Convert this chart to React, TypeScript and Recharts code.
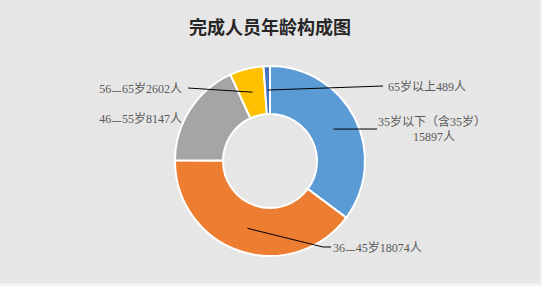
import { Cell, Pie, PieChart } from 'recharts';

const groups = ['35岁以下（含35岁）', '36—45岁', '46—55岁', '56—65岁', '65岁以上'];
const counts = [15897, 18074, 8147, 2602, 489];
const colors = ['#5B9BD5', '#ED7D31', '#A5A5A5', '#FFC000', '#4472C4'];

// label placement relative to the pie centre: [lineEndX, lineEndY, textX, textY, anchor]
const labelSpots: [number | null, number | null, number, number, string][] = [
  [107, -32, 162, -39, 'middle'],
  [53, 86, 63, 87, 'start'],
  [null, null, -88, -42, 'end'],
  [-82, -73, -88, -72, 'end'],
  [113, -75, 118, -74, 'start'],
];

const data = groups.map((name, i) => ({ name, value: counts[i] }));

const RAD = Math.PI / 180;
const font = '"Liberation Serif", "Noto Sans CJK SC", serif';
const cjk = '"Noto Sans CJK SC", sans-serif';

// the long dash is drawn in the CJK font so it keeps its full width
function nameParts(name: string) {
  const parts = name.split('—');
  return parts.map((p, i) => (
    <tspan key={i}>
      {i > 0 && <tspan style={{ fontFamily: cjk }}>—</tspan>}
      {p}
    </tspan>
  ));
}

function renderLabel(props: any) {
  const { cx, cy, midAngle, innerRadius, outerRadius, index } = props;
  const r = (innerRadius + outerRadius) / 2;
  const sx = cx + r * Math.cos(-midAngle * RAD);
  const sy = cy + r * Math.sin(-midAngle * RAD);
  const [lx, ly, tx, ty, anchor] = labelSpots[index];
  const textStyle = { fontSize: 12, fill: '#595959', fontFamily: font };
  return (
    <g key={`lbl-${index}`}>
      {lx !== null && ly !== null && (
        <polyline
          points={
            index === 1
              ? `${sx},${sy} ${cx + lx},${cy + ly} ${cx + lx + 8},${cy + ly}`
              : `${sx},${sy} ${cx + lx},${cy + ly}`
          }
          fill="none"
          stroke="#000"
          strokeWidth={1}
        />
      )}
      {index === 0 ? (
        <text x={cx + tx} y={cy + ty} textAnchor="middle" dominantBaseline="central" style={textStyle}>
          <tspan x={cx + tx} dy={0}>{groups[index]}</tspan>
          <tspan x={cx + tx + 2} dy={15}>{counts[index]}人</tspan>
        </text>
      ) : (
        <text
          x={cx + tx}
          y={cy + ty}
          textAnchor={anchor as any}
          dominantBaseline="central"
          style={textStyle}
        >
          {nameParts(groups[index])}
          {counts[index]}人
        </text>
      )}
    </g>
  );
}

export default function App() {
  return (
    <div
      style={{
        width: 540,
        height: 283,
        background: '#E7E6E6',
        borderRight: '2px solid #F2F2F2',
        borderBottom: '3px solid #F2F2F2',
        position: 'relative',
      }}
    >
      <style>{'body{margin:0}'}</style>
      <div
        style={{
          position: 'absolute',
          top: 13,
          left: 0,
          width: 540,
          textAlign: 'center',
          fontSize: 18,
          fontWeight: 'bold',
          color: '#262626',
          fontFamily: font,
        }}
      >
        完成人员年龄构成图
      </div>
      <PieChart width={540} height={283} margin={{ top: 0, right: 0, bottom: 0, left: 0 }}>
        <Pie
          data={data}
          dataKey="value"
          nameKey="name"
          cx={270}
          cy={161}
          innerRadius={47}
          outerRadius={95}
          startAngle={90}
          endAngle={-270}
          stroke="#fff"
          strokeWidth={2}
          label={renderLabel}
          labelLine={false}
          isAnimationActive={false}
        >
          {data.map((d, i) => (
            <Cell key={d.name} fill={colors[i]} />
          ))}
        </Pie>
      </PieChart>
    </div>
  );
}
